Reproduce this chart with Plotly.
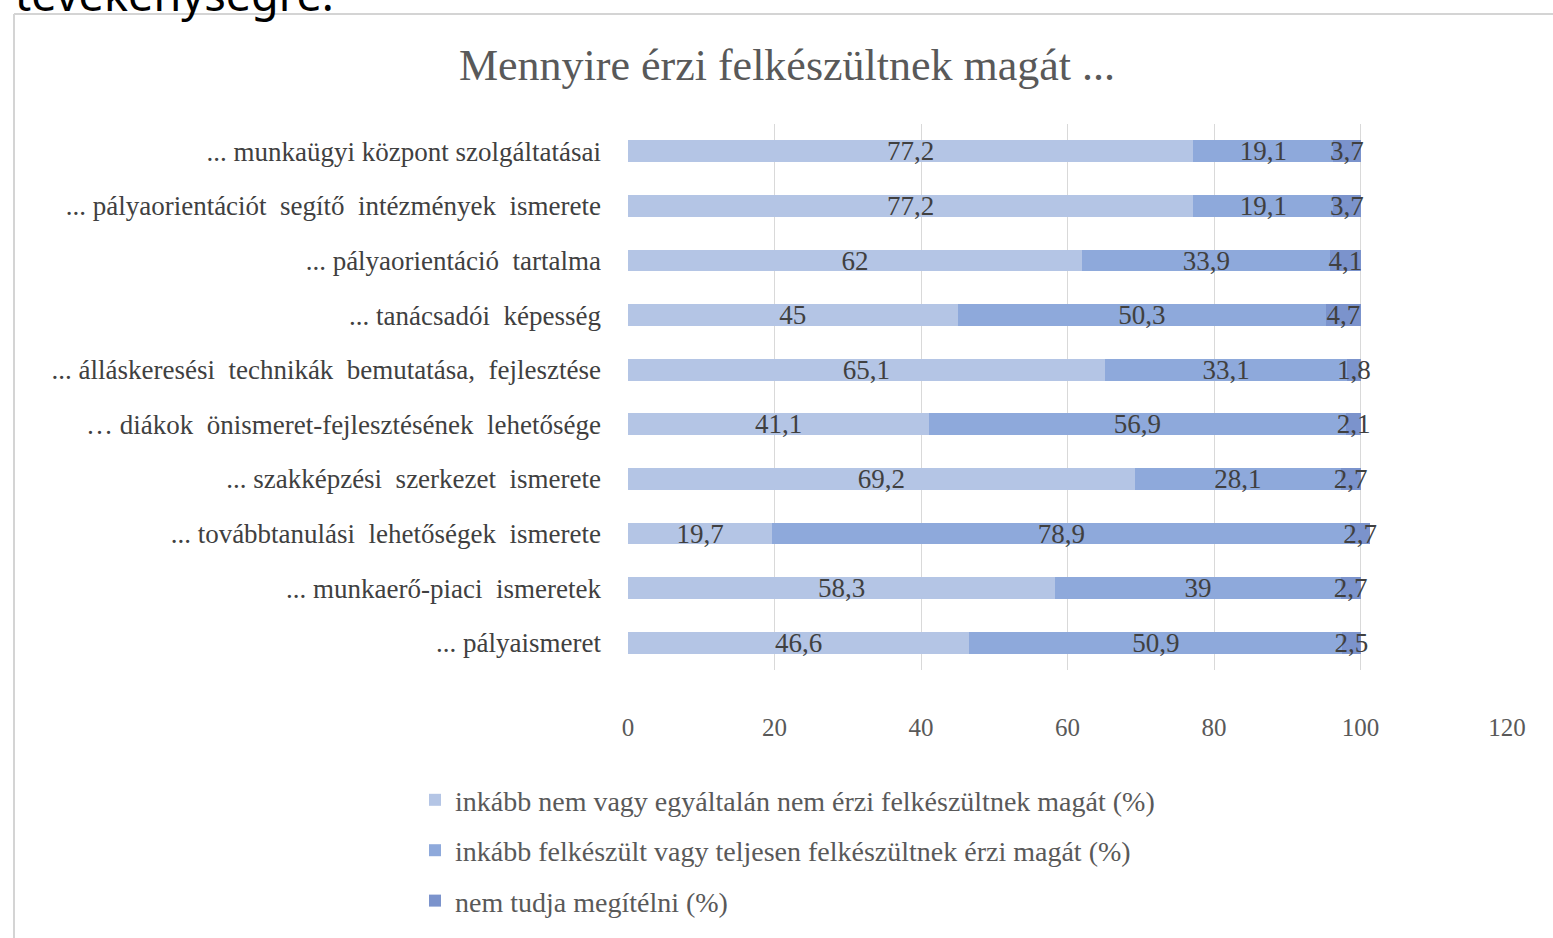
import plotly.graph_objects as go

# categories, top to bottom as in the picture
categories = [
    "... munkaügyi központ szolgáltatásai",
    "... pályaorientációt  segítő  intézmények  ismerete",
    "... pályaorientáció  tartalma",
    "... tanácsadói  képesség",
    "... álláskeresési  technikák  bemutatása,  fejlesztése",
    "… diákok  önismeret-fejlesztésének  lehetősége",
    "... szakképzési  szerkezet  ismerete",
    "... továbbtanulási  lehetőségek  ismerete",
    "... munkaerő-piaci  ismeretek",
    "... pályaismeret",
]
nem_felkeszult = [77.2, 77.2, 62, 45, 65.1, 41.1, 69.2, 19.7, 58.3, 46.6]
felkeszult = [19.1, 19.1, 33.9, 50.3, 33.1, 56.9, 28.1, 78.9, 39, 50.9]
nem_tudja = [3.7, 3.7, 4.1, 4.7, 1.8, 2.1, 2.7, 2.7, 2.7, 2.5]

series_names = [
    "inkább nem vagy egyáltalán nem érzi felkészültnek magát (%)",
    "inkább felkészült vagy teljesen felkészültnek érzi magát (%)",
    "nem tudja megítélni (%)",
]
colors = ["#b4c5e5", "#8ea9db", "#7b93cc"]

W, H = 1553, 938
L, R, T, B = 628, 46, 124, 253
pw, ph = W - L - R, H - T - B


def px_x(p):
    return (p - L) / pw


def px_y(p):
    return (H - B - p) / ph


serif = "Liberation Serif"
fig = go.Figure()

for name, vals, col in zip(series_names, [nem_felkeszult, felkeszult, nem_tudja], colors):
    fig.add_trace(go.Bar(
        y=categories, x=vals, name=name, orientation="h",
        marker=dict(color=col, line=dict(width=0)),
        text=[str(v).replace(".", ",") for v in vals],
        textposition="inside", insidetextanchor="middle", constraintext="none",
        textangle=0,
        textfont=dict(family=serif, size=27, color="#404040"),
        legendgroup=name, cliponaxis=False,
    ))

fig.update_layout(
    width=W, height=H,
    margin=dict(l=L, r=R, t=T, b=B),
    barmode="stack", bargap=0.6,
    plot_bgcolor="white", paper_bgcolor="white",
    font=dict(family=serif, color="#595959"),
    title=dict(text="Mennyire érzi felkészültnek magát ...", x=787 / W, y=1 - 65 / H,
               xanchor="center", yanchor="middle",
               font=dict(family=serif, size=44, color="#595959")),
    legend=dict(x=px_x(415), y=px_y(793), xanchor="left", yanchor="top",
                traceorder="grouped", tracegroupgap=11,
                font=dict(family=serif, size=28, color="#595959"),
                itemwidth=30),
    showlegend=True,
)

fig.update_xaxes(range=[0, 120], dtick=20, showgrid=True, gridcolor="#d9d9d9", gridwidth=1,
                 zeroline=False, showline=False, ticks="", ticklabelstandoff=40,
                 tickfont=dict(family=serif, size=25, color="#595959"))
fig.update_yaxes(autorange="reversed", showgrid=False, showline=False, ticks="",
                 ticklabelstandoff=26,
                 tickfont=dict(family=serif, size=27, color="#404040"))

# frame of the surrounding page
fig.add_shape(type="line", xref="paper", yref="paper",
              x0=px_x(14), x1=px_x(W + 20), y0=px_y(11), y1=px_y(11),
              line=dict(color="#d4d4d4", width=2))
fig.add_shape(type="line", xref="paper", yref="paper",
              x0=px_x(14), x1=px_x(14), y0=px_y(11), y1=px_y(H + 40),
              line=dict(color="#d4d4d4", width=2))

# cut-off heading above the chart
fig.add_annotation(text="tevékenységre.", xref="paper", yref="paper",
                   x=px_x(13), y=px_y(23), xanchor="left", yanchor="bottom",
                   showarrow=False, font=dict(family="Noto Sans", size=45, color="black"))

fig.write_html("out.html", config={"displayModeBar": False},
               post_script="document.body.style.margin='0';")
